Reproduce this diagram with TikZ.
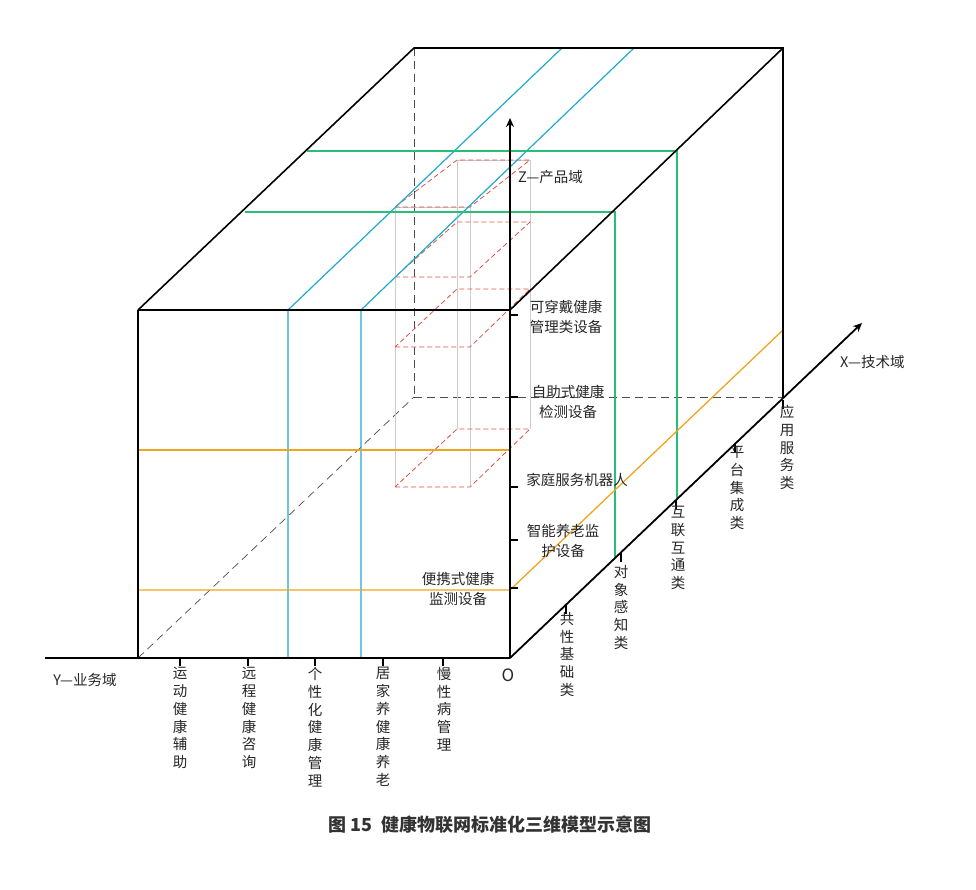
\documentclass[tikz,border=0pt]{standalone}
\usepackage{fontspec}
\setmainfont{Noto Sans CJK SC}
\usetikzlibrary{arrows.meta}
\definecolor{cb}{RGB}{30,170,205}
\definecolor{cg}{RGB}{40,190,120}
\definecolor{co}{RGB}{240,165,30}
\definecolor{cr}{RGB}{220,80,70}
\begin{document}
\begin{tikzpicture}[x=1pt,y=-1pt,
 edge/.style={black,line width=1.6pt},
 hid/.style={black!70,line width=0.7pt,dash pattern=on 8pt off 5pt},
 bl/.style={cb,line width=1.2pt},
 gr/.style={cg,line width=1.2pt},
 or/.style={co,line width=1.3pt},
 rd/.style={cr,line width=0.8pt,dash pattern=on 5pt off 3pt},
 gy/.style={black!20,line width=0.5pt},
 ax/.style={black,line width=1.8pt,-{Stealth[length=9pt,width=8pt]}},
 tk/.style={black,line width=1.2pt},
 lb/.style={font=\fontsize{14.5}{17.8}\selectfont,text=black!85,inner sep=0pt,align=center,anchor=north},
 lz/.style={font=\fontsize{14.5}{19.5}\selectfont,text=black!85,inner sep=0pt,align=center}]
\useasboundingbox (0,0) rectangle (976,890);
% cube corners
\coordinate (A) at (138,310); \coordinate (B) at (510,310);
\coordinate (C) at (510,658); \coordinate (D) at (138,658);
\coordinate (E) at (414,48); \coordinate (F) at (783,48);
\coordinate (G) at (783,397); \coordinate (H) at (414,397);
% hidden edges
\draw[hid] (E) -- (H); \draw[hid] (H) -- (G); \draw[hid] (D) -- (H);
% gray box lines
\coordinate (g1) at (395,207); \coordinate (g1b) at (395,487);
\coordinate (g2) at (470,207); \coordinate (g2b) at (470,487);
\coordinate (g3) at (457,160); \coordinate (g3b) at (457,429);
\coordinate (g4) at (530,160); \coordinate (g4b) at (530,429);
\draw[gy] (g1)--(g1b); \draw[gy] (g2)--(g2b); \draw[gy] (g3)--(g3b); \draw[gy] (g4)--(g4b);
\draw[gy] (g1)--(g2); \draw[gy] (g3)--(g4);
% red dashed parallelograms
\foreach \f/\b [count=\i] in {207/160, 277/222, 347/289, 487/429}{
  \coordinate (r\i a) at (395,\f); \coordinate (r\i b) at (470,\f);
  \coordinate (r\i c) at (530,\b); \coordinate (r\i d) at (457,\b);
  \draw[rd] (r\i a)--(r\i b)--(r\i c)--(r\i d)--cycle;
}
% blue
\coordinate (b1) at (288,310); \coordinate (b1d) at (288,658); \coordinate (b1t) at (562,48);
\coordinate (b2) at (361,310); \coordinate (b2d) at (361,658); \coordinate (b2t) at (634,48);
\draw[bl] (b1d)--(b1)--(b1t); \draw[bl] (b2d)--(b2)--(b2t);
% green
\coordinate (n1) at (245,212); \coordinate (n1r) at (615,212); \coordinate (n1b) at (615,558);
\coordinate (n2) at (307,151); \coordinate (n2r) at (677,151); \coordinate (n2b) at (677,500);
\draw[gr] (n1)--(n1r)--(n1b); \draw[gr] (n2)--(n2r)--(n2b);
% orange
\coordinate (o1) at (138,450); \coordinate (o1r) at (510,450);
\coordinate (o2) at (138,590); \coordinate (o2r) at (510,590); \coordinate (o2t) at (783,330);
\draw[or] (o1)--(o1r); \draw[or] (o2)--(o2r)--(o2t);
% cube visible edges
\draw[edge] (A)--(B)--(C); \draw[edge] (D)--(A);
\draw[edge] (A)--(E)--(F)--(G); \draw[edge] (B)--(F);
% axes
\coordinate (O) at (510,658);
\coordinate (Xe) at (862,323); \coordinate (Ze) at (510,118); \coordinate (Ye) at (45,658);
\draw[ax] (O)--(Xe); \draw[ax] (O)--(Ze);
\draw[black,line width=1.8pt] (O)--(Ye);
% ticks
\foreach \x in {180,248,315,383,443}{\coordinate (yt\x) at (\x,658); \coordinate (yu\x) at (\x,666); \draw[tk] (yt\x)--(yu\x);}
\foreach \y in {315,397,487,540,588}{\coordinate (zt\y) at (510,\y); \coordinate (zu\y) at (518,\y); \draw[tk] (zt\y)--(zu\y);}
\foreach \x/\y in {566/605,621/553,676/500,735/444,783/400}{\coordinate (xt\x) at (\x,\y); \coordinate (xu\x) at (\x,\y+9); \draw[tk] (xt\x)--(xu\x);}
% labels
\node[lz,anchor=west] (lZ) at (518,177) {Z—产品域};
\node[lz,anchor=west] (lX) at (840,362) {X—技术域};
\node[lz] (lY) at (85,680) {Y—业务域};
\node[lz] (lO) at (508,675) {\fontsize{17}{17}\selectfont O};
\node[lz] (z1) at (566,317) {可穿戴健康\\管理类设备};
\node[lz] (z2) at (568,402) {自助式健康\\检测设备};
\node[lz] (z3) at (577,480) {家庭服务机器人};
\node[lz] (z4) at (563,541) {智能养老监\\护设备};
\node[lz] (z5) at (458,589) {便携式健康\\监测设备};
\node[lb] (y1) at (180,667) {运\\动\\健\\康\\辅\\助};
\node[lb] (y2) at (249,667) {远\\程\\健\\康\\咨\\询};
\node[lb] (y3) at (315,667) {个\\性\\化\\健\\康\\管\\理};
\node[lb] (y4) at (383,667) {居\\家\\养\\健\\康\\养\\老};
\node[lb] (y5) at (444,667) {慢\\性\\病\\管\\理};
\node[lb] (x1) at (567,612) {共\\性\\基\\础\\类};
\node[lb] (x2) at (621,565) {对\\象\\感\\知\\类};
\node[lb] (x3) at (678,506) {互\\联\\互\\通\\类};
\node[lb] (x4) at (737,446) {平\\台\\集\\成\\类};
\node[lb] (x5) at (787,405) {应\\用\\服\\务\\类};
\node[font=\fontsize{18}{18}\selectfont\bfseries,text=black!80] (cap) at (490,825) {图 15\enspace 健康物联网标准化三维模型示意图};
\end{tikzpicture}
\end{document}
